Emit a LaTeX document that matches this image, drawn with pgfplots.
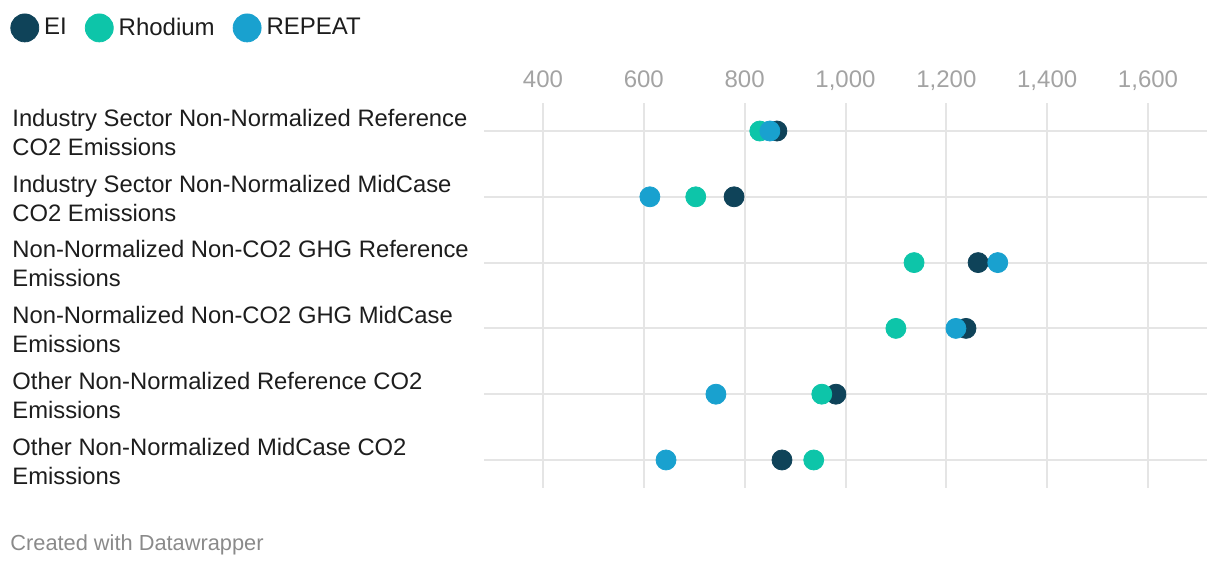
\documentclass[border=0pt]{standalone}
\usepackage{pgfplots}
\pgfplotsset{compat=1.18}
\usepackage{fontspec}
\setmainfont{Liberation Sans}

\definecolor{eicol}{HTML}{0F4359}
\definecolor{rhcol}{HTML}{0DC5A9}
\definecolor{rpcol}{HTML}{19A1CF}
\definecolor{gridcol}{HTML}{E5E5E5}
\definecolor{labcol}{HTML}{1D1D1D}
\definecolor{tickcol}{HTML}{A3A3A3}
\definecolor{footcol}{HTML}{8A8A8A}

\begin{document}
\begin{tikzpicture}
\useasboundingbox (0,0) rectangle (610pt,283pt);
\begin{axis}[
    at={(242pt,39pt)}, anchor=south west,
    width=361.5pt, height=192.5pt, scale only axis,
    xmin=283, xmax=1717,
    ymin=-0.426, ymax=5.426, y dir=reverse,
    axis line style={draw=none},
    tick style={draw=none},
    grid=major,
    major grid style={color=gridcol, line width=1pt},
    xtick={400,600,...,1600},
    xticklabel pos=upper,
    xticklabel style={anchor=base, inner sep=0pt, yshift=7.5pt,
        text=tickcol, font=\fontsize{12}{14}\selectfont},
    /pgf/number format/assume math mode=true,
    /pgf/number format/1000 sep={,},
    ytick={0,...,5},
    yticklabels={
        {Industry Sector Non-Normalized Reference\\CO2 Emissions},
        {Industry Sector Non-Normalized MidCase\\CO2 Emissions},
        {Non-Normalized Non-CO2 GHG Reference\\Emissions},
        {Non-Normalized Non-CO2 GHG MidCase\\Emissions},
        {Other Non-Normalized Reference CO2\\Emissions},
        {Other Non-Normalized MidCase CO2\\Emissions}},
    yticklabel style={anchor=west, align=left, inner sep=0pt, xshift=-236pt,
        yshift=-0.6pt, text=labcol, font=\fontsize{11.9}{14.5}\selectfont},
    legend columns=3,
    legend style={at={(-0.6556,1.195)}, anchor=west, draw=none, fill=none,
        inner sep=0pt, font=\fontsize{12}{14}\selectfont, text=labcol,
        nodes={inner sep=0pt},
        /tikz/every odd column/.append style={column sep=2.5pt},
        /tikz/every even column/.append style={column sep=9pt}},
    legend image code/.code={\fill[#1] (0pt,0pt) circle (7pt);},
    every axis plot/.append style={only marks, mark=*, mark size=5pt},
]
\addplot[eicol, mark options={draw=none, fill=eicol}] coordinates {
    (864,0) (779,1) (1263,2) (1239,3) (981,4) (874,5)};
\addlegendentry{EI}
\addplot[rhcol, mark options={draw=none, fill=rhcol}] coordinates {
    (830,0) (703,1) (1136,2) (1100,3) (953,4) (937,5)};
\addlegendentry{Rhodium}
\addplot[rpcol, mark options={draw=none, fill=rpcol}] coordinates {
    (850,0) (612,1) (1302,2) (1219,3) (743,4) (644,5)};
\addlegendentry{REPEAT}
\end{axis}
\node[anchor=west, inner sep=0pt, text=footcol, font=\fontsize{10.9}{13}\selectfont]
    at (5pt,10.5pt) {Created with Datawrapper};
\end{tikzpicture}
\end{document}
